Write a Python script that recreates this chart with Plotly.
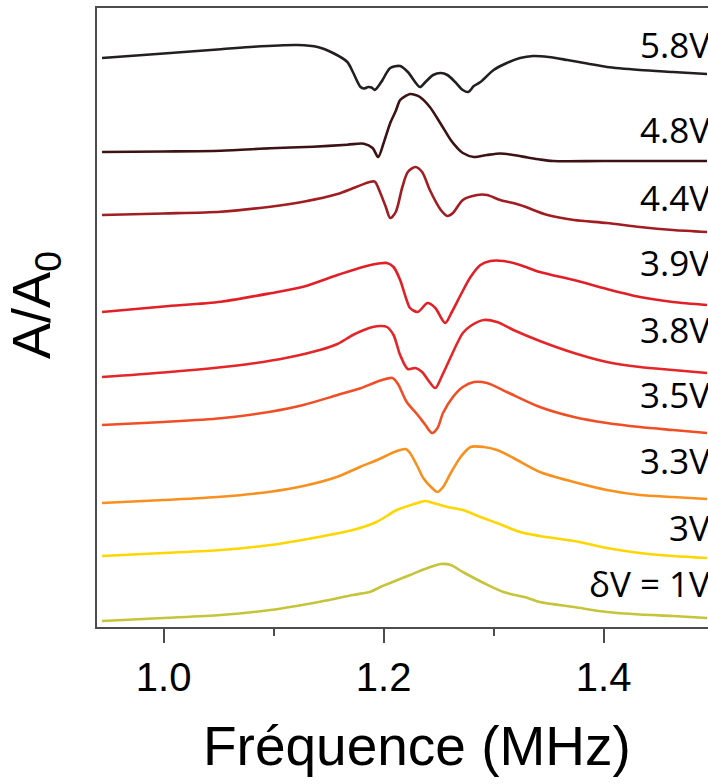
import plotly.graph_objects as go

# Frequencies (MHz) and offset amplitudes A/A0 (arbitrary offset units)
labels = ["5.8V", "4.8V", "4.4V", "3.9V", "3.8V", "3.5V", "3.3V", "3V", "δV = 1V"]
colors = ["#231f20", "#3d1214", "#a01d22", "#e21f27", "#e42629", "#f04e25", "#f7901e", "#ffd600", "#c6c43a"]

x_58 = [0.944, 1.00, 1.052, 1.082, 1.122, 1.140, 1.154, 1.167, 1.172, 1.179, 1.182, 1.186, 1.189, 1.192,
        1.196, 1.199, 1.206, 1.215, 1.222, 1.233, 1.238, 1.245, 1.252, 1.258, 1.265, 1.272, 1.277, 1.282,
        1.288, 1.300, 1.312, 1.324, 1.336, 1.350, 1.367, 1.385, 1.403, 1.433, 1.463, 1.494]
y_58 = [5.69, 5.735, 5.777, 5.803, 5.82, 5.80, 5.74, 5.65, 5.55, 5.40, 5.385, 5.40, 5.395, 5.37,
        5.42, 5.47, 5.59, 5.61, 5.55, 5.40, 5.45, 5.52, 5.54, 5.52, 5.45, 5.37, 5.35, 5.41,
        5.45, 5.57, 5.64, 5.69, 5.71, 5.70, 5.67, 5.635, 5.60, 5.57, 5.55, 5.53]

x_48 = [0.944, 1.00, 1.052, 1.097, 1.136, 1.167, 1.182, 1.190, 1.195, 1.200, 1.206, 1.211, 1.215, 1.220,
        1.224, 1.229, 1.233, 1.242, 1.252, 1.261, 1.267, 1.272, 1.282, 1.294, 1.306, 1.318, 1.331,
        1.342, 1.354, 1.40, 1.494]
y_48 = [4.75, 4.755, 4.763, 4.787, 4.803, 4.823, 4.833, 4.79, 4.70, 4.84, 5.04, 5.16, 5.27, 5.31,
        5.33, 5.32, 5.30, 5.20, 5.03, 4.87, 4.79, 4.74, 4.70, 4.72, 4.735, 4.72, 4.695,
        4.675, 4.66, 4.66, 4.66]

x_44 = [0.944, 1.00, 1.052, 1.097, 1.127, 1.158, 1.172, 1.188, 1.192, 1.197, 1.202,
        1.206, 1.211, 1.217, 1.222, 1.229, 1.235, 1.242, 1.252, 1.258, 1.263, 1.272, 1.285, 1.294,
        1.306, 1.324, 1.349, 1.373, 1.403, 1.433, 1.463, 1.494]
y_44 = [4.12, 4.135, 4.153, 4.203, 4.253, 4.33, 4.387, 4.453, 4.453, 4.34, 4.20,
        4.09, 4.15, 4.40, 4.55, 4.60, 4.55, 4.37, 4.17, 4.11, 4.14, 4.27, 4.32, 4.32,
        4.27, 4.22, 4.12, 4.07, 4.04, 4.00, 3.97, 3.95]

x_39 = [0.944, 1.00, 1.052, 1.097, 1.127, 1.158, 1.182, 1.197, 1.203, 1.209, 1.215,
        1.220, 1.224, 1.231, 1.240, 1.247, 1.256, 1.262, 1.270, 1.279, 1.288, 1.297, 1.309, 1.324,
        1.342, 1.373, 1.403, 1.433, 1.463, 1.494]
y_39 = [3.15, 3.205, 3.253, 3.337, 3.403, 3.52, 3.603, 3.637, 3.64, 3.60, 3.47,
        3.30, 3.19, 3.15, 3.24, 3.19, 3.04, 3.15, 3.32, 3.50, 3.62, 3.66, 3.66, 3.62,
        3.55, 3.47, 3.38, 3.30, 3.25, 3.22]

x_38 = [0.944, 1.00, 1.052, 1.082, 1.112, 1.142, 1.158, 1.172, 1.182, 1.190, 1.198, 1.203,
        1.209, 1.215, 1.222, 1.229, 1.235, 1.241, 1.247, 1.253, 1.261, 1.267, 1.272, 1.279, 1.291,
        1.303, 1.318, 1.342, 1.373, 1.403, 1.433, 1.463, 1.494]
y_38 = [2.50, 2.545, 2.597, 2.637, 2.693, 2.77, 2.83, 2.92, 2.97, 3.00, 3.01, 3.00,
        2.92, 2.72, 2.58, 2.59, 2.55, 2.46, 2.39, 2.51, 2.70, 2.84, 2.94, 3.01, 3.07,
        3.05, 2.97, 2.86, 2.74, 2.65, 2.60, 2.57, 2.54]

x_35 = [0.944, 1.00, 1.052, 1.097, 1.127, 1.158, 1.179, 1.194, 1.208, 1.213, 1.221,
        1.231, 1.238, 1.244, 1.249, 1.254, 1.263, 1.272, 1.282, 1.294, 1.312, 1.342, 1.373, 1.403,
        1.433, 1.463, 1.494]
y_35 = [2.02, 2.05, 2.087, 2.153, 2.22, 2.32, 2.387, 2.453, 2.49, 2.43, 2.25,
        2.12, 2.02, 1.94, 1.99, 2.14, 2.30, 2.40, 2.45, 2.44, 2.35, 2.20, 2.10, 2.04,
        2.00, 1.97, 1.94]

x_33 = [0.944, 1.00, 1.052, 1.097, 1.127, 1.158, 1.179, 1.194, 1.212, 1.220, 1.224,
        1.231, 1.236, 1.244, 1.249, 1.254, 1.261, 1.270, 1.279, 1.291, 1.303, 1.318, 1.342, 1.373,
        1.403, 1.433, 1.463, 1.494]
y_33 = [1.24, 1.27, 1.303, 1.353, 1.41, 1.503, 1.603, 1.67, 1.76, 1.78, 1.74,
        1.60, 1.49, 1.39, 1.35, 1.40, 1.54, 1.70, 1.80, 1.80, 1.77, 1.69, 1.55, 1.45,
        1.37, 1.32, 1.30, 1.28]

x_30 = [0.944, 1.00, 1.052, 1.097, 1.142, 1.172, 1.194, 1.212, 1.231, 1.238, 1.245,
        1.258, 1.272, 1.288, 1.303, 1.324, 1.342, 1.373, 1.403, 1.433, 1.463, 1.494]
y_30 = [0.71, 0.74, 0.77, 0.82, 0.903, 0.97, 1.053, 1.17, 1.24, 1.26, 1.24,
        1.20, 1.17, 1.10, 1.04, 0.95, 0.91, 0.86, 0.79, 0.74, 0.71, 0.69]

x_10 = [0.944, 1.00, 1.052, 1.097, 1.142, 1.172, 1.188, 1.197, 1.206, 1.224, 1.240, 1.252,
        1.261, 1.272, 1.291, 1.309, 1.331, 1.342, 1.373, 1.403, 1.433, 1.463, 1.494]
y_10 = [0.06, 0.09, 0.12, 0.17, 0.253, 0.32, 0.353, 0.40, 0.44, 0.52, 0.59, 0.63,
        0.62, 0.55, 0.44, 0.35, 0.29, 0.25, 0.20, 0.15, 0.125, 0.11, 0.09]

xs = [x_58, x_48, x_44, x_39, x_38, x_35, x_33, x_30, x_10]
ys = [y_58, y_48, y_44, y_39, y_38, y_35, y_33, y_30, y_10]
# label vertical positions (same y units)
label_y = [5.83, 4.98, 4.30, 3.65, 2.98, 2.33, 1.67, 1.00, 0.44]

x_ticks = [1.0, 1.2, 1.4]
x_tick_text = ["1.0", "1.2", "1.4"]
x_minor_ticks = [1.1, 1.3]

fig = go.Figure()
for xv, yv, c, name in zip(xs, ys, colors, labels):
    fig.add_trace(go.Scatter(x=xv, y=yv, mode="lines", name=name,
                             line=dict(color=c, width=2.6, shape="spline", smoothing=0.8),
                             showlegend=False, hoverinfo="skip"))

for name, ly in zip(labels, label_y):
    fig.add_annotation(text=name, xref="paper", yref="y", x=1.0066, y=ly,
                       xanchor="right", yanchor="middle", showarrow=False,
                       font=dict(family="Open Sans", size=35, color="black"))

fig.add_annotation(text="Fréquence (MHz)", xref="paper", yref="paper", x=0.5245, y=-0.193,
                   xanchor="center", yanchor="middle", showarrow=False,
                   font=dict(family="Liberation Sans", size=55, color="black"))
fig.add_annotation(text="A/A<sub>0</sub>", xref="paper", yref="paper", x=-0.1015, y=0.52,
                   xanchor="center", yanchor="middle", showarrow=False, textangle=-90,
                   font=dict(family="Liberation Sans", size=54, color="black"))

fig.update_layout(
    width=708, height=784,
    margin=dict(l=97, r=0, t=8, b=157),
    plot_bgcolor="white", paper_bgcolor="white",
    xaxis=dict(range=[0.9394, 1.4949], showline=True, linecolor="#4d4d4d", linewidth=1.5,
               mirror=True, showgrid=False, zeroline=False,
               tickmode="array", tickvals=x_ticks, ticktext=x_tick_text,
               ticks="outside", ticklen=14, tickwidth=1.5, tickcolor="#4d4d4d",
               minor=dict(tickmode="array", tickvals=x_minor_ticks, ticks="outside", ticklen=7,
                          tickwidth=1.5, tickcolor="#4d4d4d"),
               tickfont=dict(family="Liberation Sans", size=40, color="black")),
    yaxis=dict(range=[0, 6.19], showline=True, linecolor="#4d4d4d", linewidth=1.5,
               mirror=False, showgrid=False, zeroline=False, showticklabels=False, ticks=""),
)

fig.write_html("out.html", config={"displayModeBar": False},
               post_script="document.body.style.margin='0';document.body.style.overflow='hidden';")
